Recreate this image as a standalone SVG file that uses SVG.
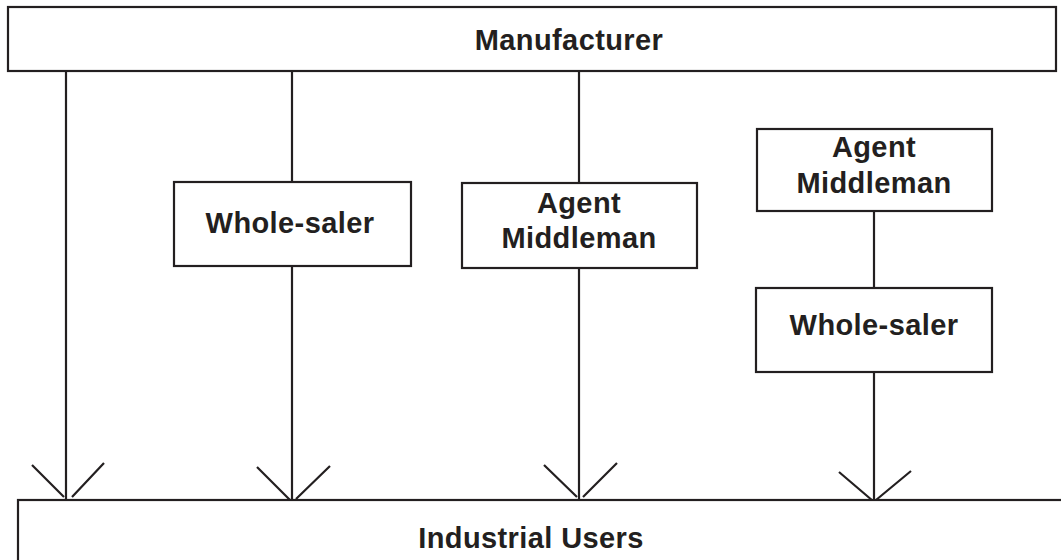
<svg xmlns="http://www.w3.org/2000/svg" width="1061" height="560" viewBox="0 0 1061 560">
<style>
.box{fill:#fff;stroke:#231f20;stroke-width:2.2}
.ln{fill:none;stroke:#231f20;stroke-width:2.2}
.t{font-family:"Liberation Sans",Arial,sans-serif;font-weight:bold;font-size:29px;letter-spacing:0.4px;fill:#231f20;text-anchor:middle}
</style>
<rect width="1061" height="560" fill="#fff"/>
<g id="connectors">
<line class="ln" x1="66" y1="71" x2="66" y2="500"/>
<path class="ln" d="M32,465 L64,497 M72,497 L104,463"/>
<line class="ln" x1="292" y1="71" x2="292" y2="182"/>
<line class="ln" x1="292" y1="266" x2="292" y2="500"/>
<path class="ln" d="M257,467 L290,500 M296,499 L330,466"/>
<line class="ln" x1="579" y1="71" x2="579" y2="183"/>
<line class="ln" x1="579" y1="268" x2="579" y2="500"/>
<path class="ln" d="M544,465 L577,497 M583,497 L617,463"/>
<line class="ln" x1="874" y1="211" x2="874" y2="288"/>
<line class="ln" x1="874" y1="372" x2="874" y2="500"/>
<path class="ln" d="M839,472 L873,501 M876,500 L911,471"/>
</g>
<g id="manufacturer">
<rect class="box" x="8" y="7" width="1048" height="64"/>
<text class="t" x="569" y="50">Manufacturer</text>
</g>
<g id="wholesaler1">
<rect class="box" x="174" y="182" width="237" height="84"/>
<text class="t" x="290" y="233">Whole-saler</text>
</g>
<g id="agent1">
<rect class="box" x="462" y="183" width="235" height="85"/>
<text class="t" x="579" y="213">Agent</text>
<text class="t" x="579" y="248">Middleman</text>
</g>
<g id="agent2">
<rect class="box" x="757" y="129" width="235" height="82"/>
<text class="t" x="874" y="157">Agent</text>
<text class="t" x="874" y="193">Middleman</text>
</g>
<g id="wholesaler2">
<rect class="box" x="756" y="288" width="236" height="84"/>
<text class="t" x="874" y="335">Whole-saler</text>
</g>
<g id="industrial">
<rect class="box" x="18" y="500" width="1060" height="80"/>
<text class="t" x="531" y="548">Industrial Users</text>
</g>
</svg>
